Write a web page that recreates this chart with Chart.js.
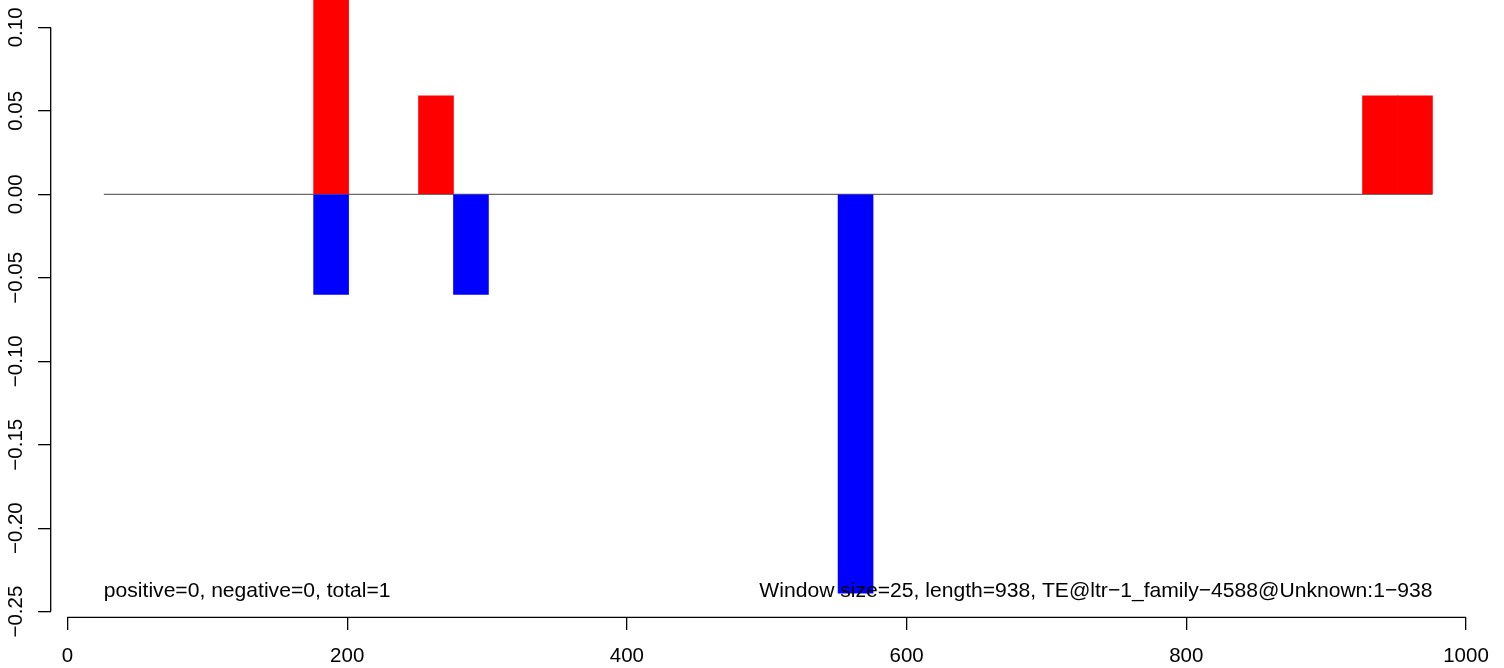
<!DOCTYPE html>
<html>
<head>
<meta charset="utf-8">
<script src="https://cdn.jsdelivr.net/npm/chart.js@4.4.1/dist/chart.umd.min.js"></script>
<style>
  html, body { margin: 0; padding: 0; background: #fff; }
  canvas { display: block; }
</style>
</head>
<body>
<canvas id="chart" width="1504" height="668"></canvas>
<script>
// ----------------------
// DATA
// ----------------------
const windowSize = 25;
const seqRange = [26, 976];
const positiveStarts = [176, 251, 926, 951];
const positiveValues = [0.12, 0.059, 0.059, 0.059];
const negativeStarts = [176, 276, 551];
const negativeValues = [-0.06, -0.06, -0.239];
const xRange = [-12, 1014];
const yRange = [-0.2534, 0.1164];
const xTicks = [0, 200, 400, 600, 800, 1000];
const yTicks = [-0.25, -0.2, -0.15, -0.1, -0.05, 0, 0.05, 0.1];
const leftNote = "positive=0, negative=0, total=1";
const rightNote = "Window size=25, length=938, TE@ltr\u22121_family\u22124588@Unknown:1\u2212938";
const noteY = -0.241;

const FONT = '"Liberation Sans", Arial, Helvetica, sans-serif';
const FSIZE = 20.5;
const NOTE_SIZE = 21.1;

function toBars(starts, values) {
  return starts.map((s, i) => ({ x: s + windowSize / 2, y: values[i] }));
}

function rLabel(v) {
  return v.toFixed(2).replace("-", "\u2212");
}

// ----------------------
// R STYLE AXES + TEXT
// ----------------------
const rStyle = {
  id: "rStyle",
  afterDatasetsDraw(chart) {
    const ctx = chart.ctx;
    const xs = chart.scales.x;
    const ys = chart.scales.y;
    ctx.save();
    ctx.fillStyle = "#000";
    ctx.font = NOTE_SIZE + "px " + FONT;
    ctx.textBaseline = "alphabetic";
    ctx.textAlign = "left";
    ctx.fillText(leftNote, xs.getPixelForValue(seqRange[0]), ys.getPixelForValue(noteY));
    ctx.textAlign = "right";
    ctx.fillText(rightNote, xs.getPixelForValue(seqRange[1]), ys.getPixelForValue(noteY));
    ctx.restore();
  },
  afterDraw(chart) {
    const ctx = chart.ctx;
    const area = chart.chartArea;
    const xs = chart.scales.x;
    const ys = chart.scales.y;
    ctx.save();
    ctx.strokeStyle = "#000";
    ctx.lineWidth = 1.3;
    // x axis line, first to last tick
    const xt = xs.ticks;
    ctx.beginPath();
    ctx.moveTo(xs.getPixelForValue(xt[0].value), area.bottom);
    ctx.lineTo(xs.getPixelForValue(xt[xt.length - 1].value), area.bottom);
    ctx.stroke();
    // y axis line
    const yt = ys.ticks;
    ctx.beginPath();
    ctx.moveTo(area.left, ys.getPixelForValue(yt[0].value));
    ctx.lineTo(area.left, ys.getPixelForValue(yt[yt.length - 1].value));
    ctx.stroke();
    // y tick labels, rotated like R
    ctx.fillStyle = "#000";
    ctx.font = FSIZE + "px " + FONT;
    ctx.textAlign = "center";
    ctx.textBaseline = "alphabetic";
    yt.forEach(t => {
      ctx.save();
      ctx.translate(21.5, ys.getPixelForValue(t.value));
      ctx.rotate(-Math.PI / 2);
      ctx.fillText(rLabel(t.value), 0, 0);
      ctx.restore();
    });
    ctx.restore();
  }
};

// ----------------------
// CHART
// ----------------------
const chart = new Chart(document.getElementById("chart").getContext("2d"), {
  type: "bar",
  data: {
    datasets: [
      {
        type: "line",
        data: [{ x: seqRange[0], y: 0 }, { x: seqRange[1], y: 0 }],
        borderColor: "#6a6a6a",
        borderWidth: 1.3,
        pointRadius: 0,
        fill: false,
        order: 2
      },
      {
        label: "positive",
        data: toBars(positiveStarts, positiveValues),
        backgroundColor: "#ff0000",
        borderWidth: 0,
        categoryPercentage: 1,
        barPercentage: 1,
        order: 1
      },
      {
        label: "negative",
        data: toBars(negativeStarts, negativeValues),
        backgroundColor: "#0000ff",
        borderWidth: 0,
        categoryPercentage: 1,
        barPercentage: 1,
        order: 1
      }
    ]
  },
  options: {
    responsive: false,
    animation: false,
    devicePixelRatio: 1,
    layout: { padding: { left: 0, right: 18.4, top: 0, bottom: 0 } },
    plugins: {
      legend: { display: false },
      tooltip: { enabled: false }
    },
    scales: {
      x: {
        type: "linear",
        min: xRange[0],
        max: xRange[1],
        offset: false,
        stacked: true,
        border: { display: false },
        grid: {
          display: true,
          offset: false,
          drawOnChartArea: false,
          drawTicks: true,
          tickLength: 12.6,
          color: "#000",
          lineWidth: 1.3
        },
        ticks: {
          autoSkip: false,
          maxRotation: 0,
          padding: 14,
          color: "#000",
          font: { family: FONT, size: FSIZE },
          callback: v => String(v)
        },
        afterBuildTicks(scale) { scale.ticks = xTicks.map(v => ({ value: v })); },
        afterFit(scale) {
          scale.height = 50.7;
          scale.paddingLeft = 0;
          scale.paddingRight = 0;
        }
      },
      y: {
        type: "linear",
        min: yRange[0],
        max: yRange[1],
        stacked: true,
        border: { display: false },
        grid: {
          display: true,
          drawOnChartArea: false,
          drawTicks: true,
          tickLength: 12.6,
          color: "#000",
          lineWidth: 1.3
        },
        ticks: { display: false },
        afterBuildTicks(scale) { scale.ticks = yTicks.map(v => ({ value: v })); },
        afterFit(scale) {
          scale.width = 50.7;
          scale.paddingTop = 0;
          scale.paddingBottom = 0;
        }
      }
    }
  },
  plugins: [rStyle]
});
</script>
</body>
</html>
